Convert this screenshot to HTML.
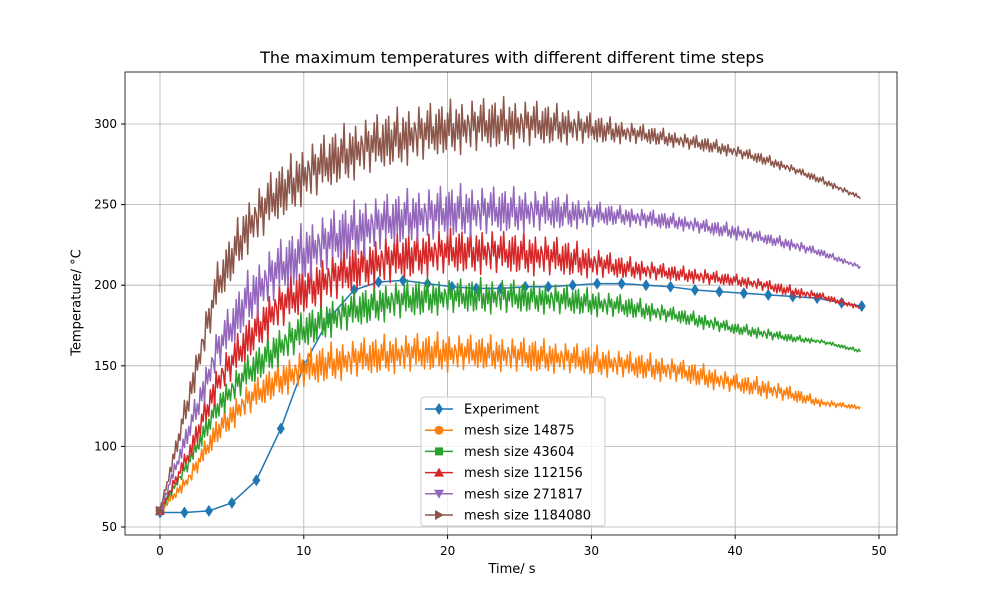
<!DOCTYPE html>
<html><head><meta charset="utf-8"><style>
html,body{margin:0;padding:0;background:#fff;width:1000px;height:600px;overflow:hidden;font-family:"Liberation Sans","DejaVu Sans",sans-serif}
svg{display:block}
svg text{font-family:"DejaVu Sans","Liberation Sans",sans-serif}
</style></head><body>
<div style="position:relative;width:1000px;height:600px">
<svg id="chart" width="1000" height="600" viewBox="0 0 1000 600">
<rect width="1000" height="600" fill="#fff"/>
<g id="grid"></g><g id="series"></g><g id="axes"></g><g id="legend"></g>
</svg>
<div style="position:absolute;top:48px;left:0;width:1024px;text-align:center;font:16px 'DejaVu Sans','Liberation Sans',sans-serif">The maximum temperatures with different different time steps</div>
<div style="position:absolute;top:562px;left:462px;width:100px;text-align:center;font:13px 'DejaVu Sans','Liberation Sans',sans-serif">Time/ s</div>
<div style="position:absolute;top:295px;left:17px;width:120px;text-align:center;transform:rotate(-90deg);font:13px 'DejaVu Sans','Liberation Sans',sans-serif">Temperature/ °C</div>
</div>
<script>
const tGrid=[0,2,4,6,8,10,12,14,16,18,20,22,24,26,28,30,32,34,36,38,40,42,44,46,48.8];
const expT=[0,1.7,3.4,5,6.7,8.4,10,11.8,13.5,15.2,16.9,18.6,20.3,22,23.7,25.4,27,28.7,30.4,32.1,33.8,35.5,37.2,38.9,40.6,42.3,44,45.7,47.4,48.8];
const expV=[59,59,60,65,79,111,150,180,197,202,203,201,199,198,198,199,199,200,201,201,200,199,197,196,195,194,193,192,189,187];
const mesh14875=[60,80,110,128,140,148,152,155,157,158,158,158,157,156,155,153,151,149,147,143,139,136,132,127,124];
const mesh43604=[60,90,125,145,160,172,180,186,190,192,193,193,193,192,191,189,187,184,181,177,173,170,167,165,159];
const mesh112156=[60,95,140,165,185,197,205,212,216,219,221,221,220,219,217,214,211,209,207,205,203,200,196,193,186];
const mesh271817=[60,110,160,190,208,220,228,235,240,243,245,246,246,246,245,244,243,241,239,236,233,229,225,220,211];
const mesh1184080=[60,130,200,235,255,268,278,285,290,294,297,299,300,300,299,297,295,293,290,287,283,278,272,265,254];
const amp14875=[1,4,7,8,9,10,10,10,10,10,10,9,9,9,8,8,7,7,6,6,5,5,4,2,1];
const amp43604=[1,4,7,9,10,10,10,10,10,10,9,9,9,8,8,7,6,5,4,4,3,3,2,1,1];
const amp112156=[1,5,9,11,12,13,13,13,13,12,12,12,11,11,10,8,6,5,4,4,3,3,3,2,1];
const amp271817=[1,6,11,14,15,15,15,15,14,14,14,13,12,11,9,7,5,5,4,4,4,3,3,2,1];
const amp1184080=[1,8,12,14,15,15,15,15,15,15,14,14,13,12,10,8,6,5,4,4,3,3,2,2,1];
const jitter=[0.9,-0.6,1,-1,0.4,-0.9,0.7,-0.3,1.3,-0.8,0.2,-1,0.8,-0.5,0.6,-1.2,1,-0.4,0.3,-0.7,0.5,0.1,-0.9,1.1,-0.2,0.6,-1.1,0.4,-0.3,0.9,-0.7,1.2,-0.5,0.2,-0.8,0.7,-1];
const xTicks=[0,10,20,30,40,50];
const yTicks=[50,100,150,200,250,300];
const ns="http://www.w3.org/2000/svg";
const X=t=>160+t*14.38, Y=v=>527-(v-50)*1.612;
function mk(tag,at,p){const e=document.createElementNS(ns,tag);for(const k in at)e.setAttribute(k,at[k]);p.appendChild(e);return e;}
const G=document.getElementById('grid'),S=document.getElementById('series'),A=document.getElementById('axes'),L=document.getElementById('legend');
xTicks.forEach(t=>{const l=mk('line',{x1:X(t),x2:X(t),y1:72,y2:535,stroke:'#b0b0b0','stroke-width':0.8},G);

mk('line',{x1:X(t),x2:X(t),y1:535,y2:539,stroke:'#000'},A);
const tx=mk('text',{x:X(t),y:555,'font-size':12,'text-anchor':'middle'},A);tx.textContent=t;
});
yTicks.forEach(v=>{const l=mk('line',{x1:125,x2:897,y1:Y(v),y2:Y(v),stroke:'#b0b0b0','stroke-width':0.8},G);

mk('line',{x1:121,x2:125,y1:Y(v),y2:Y(v),stroke:'#000'},A);
const tx=mk('text',{x:117,y:Y(v)+4,'font-size':12,'text-anchor':'end'},A);tx.textContent=v;
});
const fr=mk('rect',{x:125,y:72,width:772,height:463,fill:'none',stroke:'#000','stroke-width':0.8},A);

function interp(arr,t){for(let i=0;i<tGrid.length-1;i++){if(t<=tGrid[i+1]){const f=(t-tGrid[i])/(tGrid[i+1]-tGrid[i]);return arr[i]+f*(arr[i+1]-arr[i]);}}return arr[arr.length-1];}
function marker(type,x,y,c,p){
 if(type==='o')return mk('circle',{cx:x,cy:y,r:4.5,fill:c},p);
 if(type==='s')return mk('rect',{x:x-4,y:y-4,width:8,height:8,fill:c},p);
 if(type==='^')return mk('polygon',{points:`${x},${y-5} ${x-5},${y+4} ${x+5},${y+4}`,fill:c},p);
 if(type==='v')return mk('polygon',{points:`${x},${y+5} ${x-5},${y-4} ${x+5},${y-4}`,fill:c},p);
 if(type==='>')return mk('polygon',{points:`${x+5},${y} ${x-4},${y-5} ${x-4},${y+5}`,fill:c},p);
 if(type==='d')return mk('polygon',{points:`${x},${y-6} ${x-4},${y} ${x},${y+6} ${x+4},${y}`,fill:c},p);
}
const defs=[
 {name:'Experiment',c:'#1f77b4',m:'d'},
 {name:'mesh size 14875',c:'#ff7f0e',m:'o',v:mesh14875,a:amp14875,id:'mesh-14875'},
 {name:'mesh size 43604',c:'#2ca02c',m:'s',v:mesh43604,a:amp43604,id:'mesh-43604'},
 {name:'mesh size 112156',c:'#d62728',m:'^',v:mesh112156,a:amp112156,id:'mesh-112156'},
 {name:'mesh size 271817',c:'#9467bd',m:'v',v:mesh271817,a:amp271817,id:'mesh-271817'},
 {name:'mesh size 1184080',c:'#8c564b',m:'>',v:mesh1184080,a:amp1184080,id:'mesh-1184080'}];
{const g=mk('g',{},S);
const pl=mk('polyline',{points:expT.map((t,i)=>X(t)+','+Y(expV[i])).join(' '),fill:'none',stroke:'#1f77b4','stroke-width':1.5},g);

expT.forEach((t,i)=>{const m=marker('d',X(t),Y(expV[i]),'#1f77b4',g);});}
defs.slice(1).forEach((d,si)=>{const g=mk('g',{},S);
 const pts=[];let k=si*7;
 for(let t=0;t<=48.8;t+=0.1){const j=jitter[k%jitter.length];k++;pts.push(X(t)+','+Y(interp(d.v,t)+j*interp(d.a,t)));}
 const pl=mk('polyline',{points:pts.join(' '),fill:'none',stroke:d.c,'stroke-width':1.5,'stroke-linejoin':'round'},g);
 
 const m=marker(d.m,X(0),Y(d.v[0]),d.c,g);});
const lb=mk('rect',{x:421,y:397,width:184,height:129,rx:3,fill:'#fff','fill-opacity':0.8,stroke:'#ccc'},L);

defs.forEach((d,i)=>{const y=409+i*21.2;const g=mk('g',{},L);
 mk('line',{x1:425,x2:453,y1:y,y2:y,stroke:d.c,'stroke-width':1.5},g);marker(d.m,439,y,d.c,g);
 const t=mk('text',{x:464,y:y+4.5,'font-size':13},g);t.textContent=d.name;});
</script>
</body></html>
